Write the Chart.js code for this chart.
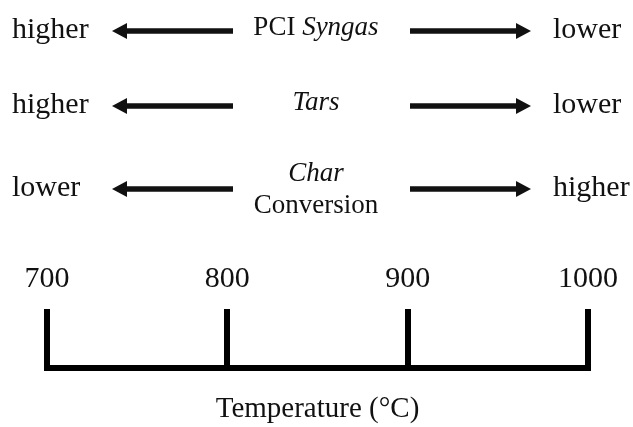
<!DOCTYPE html>
<html>
<head>
<meta charset="utf-8">
<script src="https://cdn.jsdelivr.net/npm/chart.js@4/dist/chart.umd.min.js"></script>
<style>
  body { margin: 0; background: #fff; }
  #wrap { width: 633px; height: 427px; }
</style>
</head>
<body>
<div id="wrap"><canvas id="grafico"></canvas></div>
<script>
// temperature scale
var temps = [700, 800, 900, 1000];
// what changes along the scale (each label split into [text, italic?] parts, one list per line)
var variables = [
  [[["PCI ", false], ["Syngas", true]]],
  [[["Tars", true]]],
  [[["Char", true]], [["Conversion", false]]]
];
var aBaja = ["higher", "higher", "lower"];   // at 700 °C side
var aAlta = ["lower", "lower", "higher"];    // at 1000 °C side

var fuente = "'Liberation Serif', 'Times New Roman', serif";
var tinta = "#111";

// draws the rows of text and arrows above the scale
var flechas = {
  id: "flechas",
  afterDraw: function (chart) {
    var ctx = chart.ctx;
    var filas = [31, 106, 189];
    ctx.save();
    ctx.fillStyle = tinta;
    ctx.strokeStyle = tinta;
    ctx.textBaseline = "alphabetic";
    filas.forEach(function (y, i) {
      ctx.textAlign = "left";
      ctx.font = "30px " + fuente;
      ctx.fillText(aBaja[i], 12, y + 7);
      ctx.fillText(aAlta[i], 553, y + 7);

      // centre label, one or two lines
      var lineas = variables[i];
      var base = lineas.length > 1 ? y - 8 : y + 4;
      lineas.forEach(function (partes, j) {
        var ancho = 0;
        partes.forEach(function (p) {
          ctx.font = (p[1] ? "italic " : "") + "27px " + fuente;
          ancho += ctx.measureText(p[0]).width;
        });
        var x = 316 - ancho / 2;
        partes.forEach(function (p) {
          ctx.font = (p[1] ? "italic " : "") + "27px " + fuente;
          ctx.fillText(p[0], x, base + j * 32);
          x += ctx.measureText(p[0]).width;
        });
      });

      dibujarFlecha(ctx, 233, 112, y);
      dibujarFlecha(ctx, 410, 531, y);
    });
    ctx.restore();
  }
};

function dibujarFlecha(ctx, desde, hasta, y) {
  var dir = hasta > desde ? 1 : -1;
  var base = hasta - dir * 15;
  ctx.lineWidth = 5.5;
  ctx.beginPath();
  ctx.moveTo(desde, y);
  ctx.lineTo(base, y);
  ctx.stroke();
  ctx.beginPath();
  ctx.moveTo(hasta, y);
  ctx.lineTo(base, y - 8);
  ctx.lineTo(base, y + 8);
  ctx.closePath();
  ctx.fill();
}

var ctx = document.getElementById("grafico");
var miGrafico = new Chart(ctx, {
  type: "scatter",
  data: {
    datasets: [
      {
        label: "Temperatura",
        data: temps.map(function (t) { return { x: t, y: 0 }; }),
        pointRadius: 0,
        showLine: false,
      },
    ],
  },
  options: {
    responsive: true,
    maintainAspectRatio: false,
    animation: false,
    events: [],
    layout: { padding: { top: 249, left: 47, right: 45, bottom: 0 } },
    plugins: {
      legend: { display: false },
      tooltip: { enabled: false },
    },
    scales: {
      x: {
        type: "linear",
        position: "bottom",
        min: temps[0],
        max: temps[temps.length - 1],
        ticks: { display: false, stepSize: 100 },
        grid: { color: "#000", lineWidth: 6, drawTicks: false },
        border: { display: true, color: "#000", width: 6 },
        title: {
          display: true,
          text: "Temperature (°C)",
          color: tinta,
          font: { family: fuente, size: 29 },
          padding: { top: 24, bottom: 0 },
        },
      },
      x2: {
        type: "linear",
        position: "top",
        min: temps[0],
        max: temps[temps.length - 1],
        ticks: {
          stepSize: 100,
          color: tinta,
          font: { family: fuente, size: 30 },
          padding: 12,
          maxRotation: 0,
          callback: function (v) { return String(v); },
        },
        grid: { display: false, drawTicks: false },
        border: { display: false },
      },
      y: { display: false, min: 0, max: 1 },
    },
  },
  plugins: [flechas],
});
</script>
</body>
</html>
